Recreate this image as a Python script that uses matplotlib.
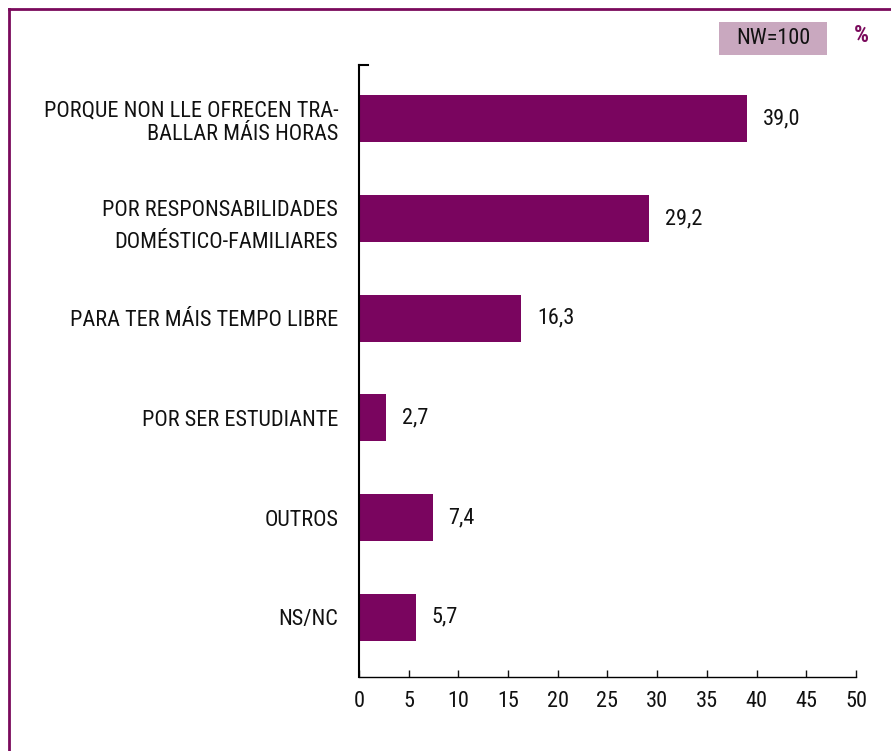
import matplotlib.pyplot as plt
from matplotlib.patches import Rectangle
from matplotlib.lines import Line2D

plt.rcParams['font.family'] = ['Roboto Condensed', 'DejaVu Sans']

# Data
categories = ['PORQUE NON LLE OFRECEN TRA-\nBALLAR MÁIS HORAS',
              'POR RESPONSABILIDADES\nDOMÉSTICO-FAMILIARES',
              'PARA TER MÁIS TEMPO LIBRE',
              'POR SER ESTUDIANTE',
              'OUTROS',
              'NS/NC']
values = [39.0, 29.2, 16.3, 2.7, 7.4, 5.7]
xticks = [0, 5, 10, 15, 20, 25, 30, 35, 40, 45, 50]

bar_color = '#7a055f'
frame_color = '#7a0a5c'
fs = 16

fig = plt.figure(figsize=(8.91, 7.51), dpi=100)
ax = fig.add_axes([0.4029, 0.0985, 0.5578, 0.8149])

ypos = list(range(len(categories)))
ax.barh(ypos, values, height=0.47, color=bar_color)

# value labels
for y, v in zip(ypos, values):
    ax.text(v + 1.6, y, f'{v:.1f}'.replace('.', ','), va='center', ha='left',
            fontsize=fs, color='#111111')

ax.set_xlim(0, 50)
ax.set_ylim(5.6, -0.54)
ax.set_xticks(xticks)
ax.set_xticklabels([str(t) for t in xticks], fontsize=fs)
ax.tick_params(axis='x', direction='in', length=5, width=1, pad=10, colors='#111111')
ax.set_yticks(ypos)
ax.set_yticklabels(categories, fontsize=fs)
ax.tick_params(axis='y', length=0, pad=15, colors='#111111')
for lbl, ls in zip(ax.get_yticklabels(), [1.15, 1.7, 1, 1, 1, 1]):
    lbl.set_linespacing(ls)

ax.spines['top'].set_visible(False)
ax.spines['right'].set_visible(False)
ax.spines['left'].set_linewidth(1.5)
ax.spines['bottom'].set_linewidth(1.0)

# small tick at top of y axis
ax.add_line(Line2D([0, 0.9], [-0.54, -0.54], color='black', lw=1.5, clip_on=False))

# NW box and % sign
fig.patches.append(Rectangle((719 / 891, 1 - 55 / 751), 108 / 891, 33 / 751,
                             transform=fig.transFigure, facecolor='#c9a8bf',
                             edgecolor='none'))
fig.text(773 / 891, 1 - 38 / 751, 'NW=100', ha='center', va='center', fontsize=fs,
         color='#111111')
fig.text(861 / 891, 1 - 36 / 751, '%', ha='center', va='center', fontsize=17,
         color=frame_color, fontweight='bold')

# purple frame (left and top)
fig.add_artist(Line2D([8.5 / 891, 8.5 / 891], [0, 1 - 8.5 / 751], color=frame_color,
                      lw=2, transform=fig.transFigure))
fig.add_artist(Line2D([8.5 / 891, 1], [1 - 8.5 / 751, 1 - 8.5 / 751], color=frame_color,
                      lw=2, transform=fig.transFigure))

fig.savefig('out.png', dpi=100)
